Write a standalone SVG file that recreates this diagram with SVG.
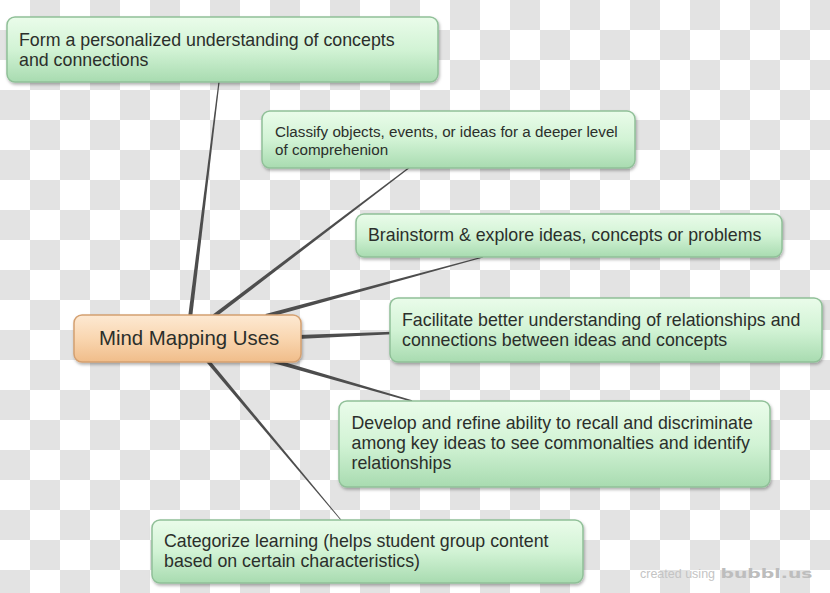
<svg xmlns="http://www.w3.org/2000/svg" width="830" height="593" viewBox="0 0 830 593">
  <defs>
    <pattern id="cb" width="60" height="60" patternUnits="userSpaceOnUse">
      <rect width="60" height="60" fill="#ffffff"/>
      <rect x="30" y="0" width="30" height="30" fill="#e3e3e3"/>
      <rect x="0" y="30" width="30" height="30" fill="#e3e3e3"/>
    </pattern>
    <linearGradient id="gg" x1="0" y1="0" x2="0" y2="1">
      <stop offset="0" stop-color="#eafcea"/>
      <stop offset="0.5" stop-color="#d2f3d5"/>
      <stop offset="1" stop-color="#a8dbb0"/>
    </linearGradient>
    <linearGradient id="og" x1="0" y1="0" x2="0" y2="1">
      <stop offset="0" stop-color="#fde9d3"/>
      <stop offset="0.5" stop-color="#f9d6b0"/>
      <stop offset="1" stop-color="#f0bd8a"/>
    </linearGradient>
    <filter id="sh" x="-5%" y="-10%" width="110%" height="130%">
      <feDropShadow dx="1" dy="2" stdDeviation="1.5" flood-color="#000" flood-opacity="0.3"/>
    </filter>
  </defs>
  <style>
    .node rect.g { fill: url(#gg); stroke: #90c098; stroke-width: 1.5; filter: url(#sh); }
    .node rect.o { fill: url(#og); stroke: #d4a070; stroke-width: 1.5; filter: url(#sh); }
    .t { font-family: "Liberation Sans", Arial, sans-serif; fill: #2b2f2b; }
    .big { font-size: 17.8px; }
    .small { font-size: 15.2px; }
    .conn polygon { fill: #4d4d4d; }
  </style>
  <rect width="830" height="593" fill="url(#cb)"/>

  <g id="connectors" class="conn">
    <polygon points="192,318.2 219.6,82.1 218.4,81.9 188,317.8"/>
    <polygon points="215.2,317.6 410.36,167.48 409.64,166.52 212.8,314.4"/>
    <polygon points="266.5,317.9 483.16,257.58 482.84,256.42 265.5,314.1"/>
    <polygon points="298.1,339 392,334.2 392,331.8 297.9,335"/>
    <polygon points="269.4,361.9 411.8,401.8 412.2,400.2 270.6,358.1"/>
    <polygon points="205.6,361.2 340.7,520.3 341.3,519.7 208.4,358.8"/>
  </g>

  <g id="node-center" class="node">
    <rect class="o" x="74" y="315" width="227" height="47" rx="8"/>
    <text class="t" x="99" y="345" font-size="20.4">Mind Mapping Uses</text>
  </g>

  <g id="node-form" class="node">
    <rect class="g" x="7" y="17" width="431" height="65" rx="8"/>
    <text class="t big" x="19" y="46">Form a personalized understanding of concepts</text>
    <text class="t big" x="19" y="65.5">and connections</text>
  </g>

  <g id="node-classify" class="node">
    <rect class="g" x="262" y="111" width="373" height="57" rx="8"/>
    <text class="t small" x="275" y="137">Classify objects, events, or ideas for a deeper level</text>
    <text class="t small" x="275" y="155">of comprehenion</text>
  </g>

  <g id="node-brainstorm" class="node">
    <rect class="g" x="356" y="214" width="426" height="43" rx="8"/>
    <text class="t big" x="368" y="241">Brainstorm &amp; explore ideas, concepts or problems</text>
  </g>

  <g id="node-facilitate" class="node">
    <rect class="g" x="390" y="298" width="432" height="64" rx="8"/>
    <text class="t big" x="402" y="326">Facilitate better understanding of relationships and</text>
    <text class="t big" x="402" y="346">connections between ideas and concepts</text>
  </g>

  <g id="node-develop" class="node">
    <rect class="g" x="339" y="401" width="431" height="86" rx="8"/>
    <text class="t big" x="351.5" y="429.3">Develop and refine ability to recall and discriminate</text>
    <text class="t big" x="351.5" y="449.3">among key ideas to see commonalties and identify</text>
    <text class="t big" x="351.5" y="469.3">relationships</text>
  </g>

  <g id="node-categorize" class="node">
    <rect class="g" x="152" y="520" width="431" height="63" rx="8"/>
    <text class="t big" x="164" y="547">Categorize learning (helps student group content</text>
    <text class="t big" x="164" y="566.5">based on certain characteristics)</text>
  </g>

  <g id="watermark">
    <text x="640" y="577.7" font-family="Liberation Sans, Arial, sans-serif" font-size="12.5" fill="#c4c4c4">created using</text>
    <text x="720.5" y="577.7" font-family="DejaVu Sans, sans-serif" font-weight="bold" font-size="12.5" fill="#bdbdbd" textLength="92" lengthAdjust="spacingAndGlyphs">bubbl.us</text>
  </g>
</svg>
